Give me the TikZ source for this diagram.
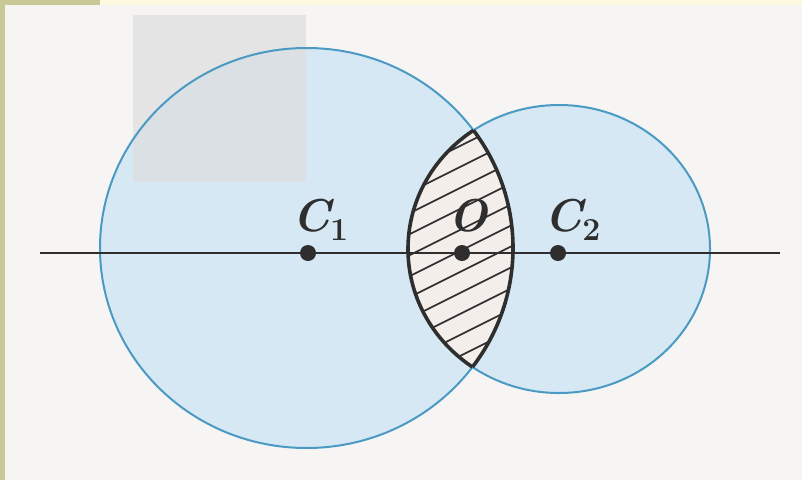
\documentclass[tikz,border=0pt]{standalone}
\usepackage{fontspec}
\definecolor{bg}{HTML}{F7F5F3}
\definecolor{olive}{HTML}{C9C897}
\definecolor{paleyel}{HTML}{FCFADF}
\definecolor{cfill}{HTML}{D6E8F3}
\definecolor{cstroke}{HTML}{4A9AC4}
\definecolor{lensfill}{HTML}{F4EEEB}
\definecolor{ink}{HTML}{2E2E2E}
\definecolor{grayrect}{HTML}{DEDEDE}
\newcommand{\mysubs}[1]{\raisebox{-0.2em}{\fontsize{32}{34}\selectfont\bfseries\upshape #1}}
\tikzset{
  circfill/.style={fill=cfill},
  circline/.style={draw=cstroke, line width=2pt},
  lensline/.style={draw=ink, line width=3.6pt},
  hatchline/.style={draw=ink, line width=1.6pt},
  dotpt/.style={circle, fill=ink, inner sep=0pt, minimum size=16pt},
  lab/.style={text=ink, font=\fontsize{46}{50}\selectfont\bfseries\itshape, inner sep=0pt}
}
\begin{document}
\begin{tikzpicture}[x=1pt,y=-1pt]
\useasboundingbox (0,0) rectangle (802,480);
% background and borders
\fill[bg] (0,0) rectangle (802,480);
\fill[paleyel] (100,0) rectangle (802,5);
\fill[olive] (0,0) rectangle (100,5);
\fill[olive] (0,0) rectangle (5,480);
% circles fill
\coordinate (c1) at (306.5,248);
\coordinate (c2) at (559,249);
\fill[circfill] (c1) ellipse [x radius=206.5, y radius=200];
\fill[circfill] (c2) ellipse [x radius=151, y radius=144];
% gray scan patch
\fill[grayrect, opacity=0.7] (133,15) rectangle (306,182);
% circle outlines
\draw[circline] (c1) ellipse [x radius=206.5, y radius=200];
\draw[circline] (c2) ellipse [x radius=151, y radius=144];
% lens
\begin{scope}
  \clip (c1) ellipse [x radius=206.5, y radius=200];
  \fill[lensfill] (c2) ellipse [x radius=151, y radius=144];
  \clip (c2) ellipse [x radius=151, y radius=144];
  \foreach \i in {-10,...,10} {
    \draw[hatchline] (262,{250+21*\i+100}) -- (662,{250+21*\i-100});
  }
\end{scope}
\begin{scope}
  \clip (c1) ellipse [x radius=206.5, y radius=200];
  \draw[lensline] (c2) ellipse [x radius=151, y radius=144];
\end{scope}
\begin{scope}
  \clip (c2) ellipse [x radius=151, y radius=144];
  \draw[lensline] (c1) ellipse [x radius=206.5, y radius=200];
\end{scope}
% axis
\coordinate (axl) at (40,253);
\coordinate (axr) at (780,253);
\draw[ink, line width=1.4pt] (axl) -- (axr);
% points
\node[dotpt] (C1) at (308,253) {};
\node[dotpt] (O) at (462,253) {};
\node[dotpt] (C2) at (558,253) {};
% labels
\node[lab, anchor=base west] (lC1) at (292,231) {C\mysubs{1}};
\node[lab, anchor=base west] (lO) at (448,231) {O};
\node[lab, anchor=base west] (lC2) at (544,231) {C\mysubs{2}};
\end{tikzpicture}
\end{document}
